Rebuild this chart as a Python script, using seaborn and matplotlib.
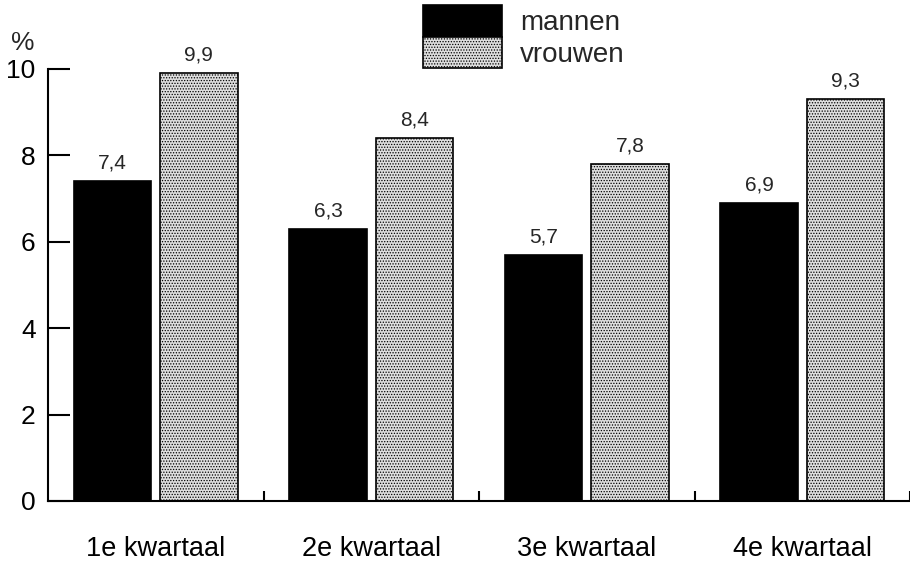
import matplotlib
matplotlib.use("Agg")
import matplotlib.pyplot as plt
import seaborn as sns
import pandas as pd

kwartalen = ["1e kwartaal", "2e kwartaal", "3e kwartaal", "4e kwartaal"]
mannen = [7.4, 6.3, 5.7, 6.9]
vrouwen = [9.9, 8.4, 7.8, 9.3]
series_names = ["mannen", "vrouwen"]
y_ticks = [0, 2, 4, 6, 8, 10]

df = pd.DataFrame({
    "kwartaal": kwartalen * 2,
    "geslacht": [series_names[0]] * 4 + [series_names[1]] * 4,
    "waarde": mannen + vrouwen,
})

sns.set_style("white")
plt.rcParams["font.family"] = ["Liberation Sans", "DejaVu Sans"]
plt.rcParams["hatch.linewidth"] = 0.6

fig = plt.figure(figsize=(9.10, 5.62), dpi=100)
ax = fig.add_axes([48 / 910, 61 / 562, 862 / 910, 432 / 562])

sns.barplot(data=df, x="kwartaal", y="waarde", hue="geslacht",
            palette={"mannen": "black", "vrouwen": "#dedede"},
            width=0.8, gap=0.1, edgecolor="black", linewidth=1.2,
            saturation=1, ax=ax, legend=False)

for p in ax.containers[1]:
    p.set_hatch("......")

for cont, vals in zip(ax.containers, [mannen, vrouwen]):
    ax.bar_label(cont, labels=[f"{v:.1f}".replace(".", ",") for v in vals],
                 padding=6, fontsize=15)

ax.set_xlim(-0.5, 3.5)
ax.set_ylim(0, 10)
ax.set_yticks(y_ticks)
ax.set_yticklabels([str(t) for t in y_ticks])
ax.set_xlabel("")
ax.set_ylabel("")

for side in ["top", "right"]:
    ax.spines[side].set_visible(False)
for side in ["left", "bottom"]:
    ax.spines[side].set_linewidth(1.5)
    ax.spines[side].set_color("black")

ax.tick_params(axis="y", direction="in", length=16, width=1.5, pad=9,
               labelsize=19, left=True, colors="black")
ax.tick_params(axis="x", which="major", length=0, pad=25, labelsize=19.5,
               colors="black")
ax.set_xticks([0.5, 1.5, 2.5, 3.5], minor=True)
ax.tick_params(axis="x", which="minor", direction="in", length=7, width=1.5,
               bottom=True, colors="black")

fig.text(23 / 910, 1 - 43 / 562, "%", fontsize=19, ha="center", va="center")

fs = 20
fspx = fs * 100 / 72
ax.legend(handles=list(ax.containers), labels=series_names,
          loc="upper left", bbox_to_anchor=(423 / 910, 1 - 5 / 562),
          bbox_transform=fig.transFigure, frameon=False, fontsize=fs,
          borderpad=0, borderaxespad=0, labelspacing=0,
          handlelength=79 / fspx, handleheight=38 / fspx,
          handletextpad=18 / fspx)

fig.savefig("out.png", dpi=100)
